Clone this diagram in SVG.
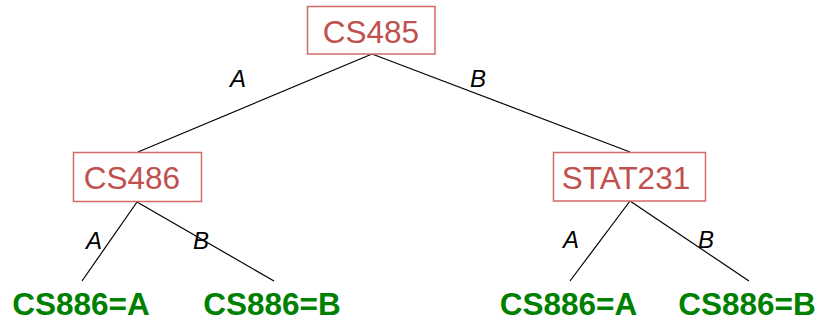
<svg xmlns="http://www.w3.org/2000/svg" width="820" height="322" viewBox="0 0 820 322">
<style>
.box{fill:#fff;stroke:#d46a6a;stroke-width:1.5}
.nt{font-family:"Liberation Sans",Arial,sans-serif;font-size:31.5px;fill:#c0504d;text-anchor:middle}
.lf{font-family:"Liberation Sans",Arial,sans-serif;font-size:31.5px;font-weight:bold;fill:#008000;text-anchor:middle}
.el{font-family:"Liberation Sans",Arial,sans-serif;font-size:24px;font-style:italic;fill:#000;text-anchor:middle}
.edge{stroke:#000;stroke-width:1.2;fill:none}
</style>
<g id="connectors">
<line class="edge" x1="372" y1="54" x2="138" y2="152"/>
<line class="edge" x1="372" y1="54" x2="630" y2="152"/>
<line class="edge" x1="137" y1="202" x2="82" y2="281"/>
<line class="edge" x1="137" y1="202" x2="274" y2="281"/>
<line class="edge" x1="630" y1="201" x2="570" y2="281"/>
<line class="edge" x1="630" y1="201" x2="749" y2="281"/>
<text class="el" x="238" y="87">A</text>
<text class="el" x="478" y="87">B</text>
<text class="el" x="94" y="249">A</text>
<text class="el" x="201" y="249">B</text>
<text class="el" x="571" y="248">A</text>
<text class="el" x="706" y="248">B</text>
</g>
<g id="CS485">
<rect class="box" x="307.5" y="6.5" width="127.5" height="47.5"/>
<text class="nt" x="371" y="43">CS485</text>
</g>
<g id="CS486">
<rect class="box" x="73.5" y="152.5" width="128" height="49"/>
<text class="nt" x="132" y="188.5">CS486</text>
</g>
<g id="STAT231">
<rect class="box" x="553.5" y="152.5" width="152" height="48.5"/>
<text class="nt" x="626" y="188.5">STAT231</text>
</g>
<g id="leaf1"><text class="lf" x="81" y="315">CS886=A</text></g>
<g id="leaf2"><text class="lf" x="272" y="315">CS886=B</text></g>
<g id="leaf3"><text class="lf" x="568.5" y="315">CS886=A</text></g>
<g id="leaf4"><text class="lf" x="747" y="315">CS886=B</text></g>
</svg>
